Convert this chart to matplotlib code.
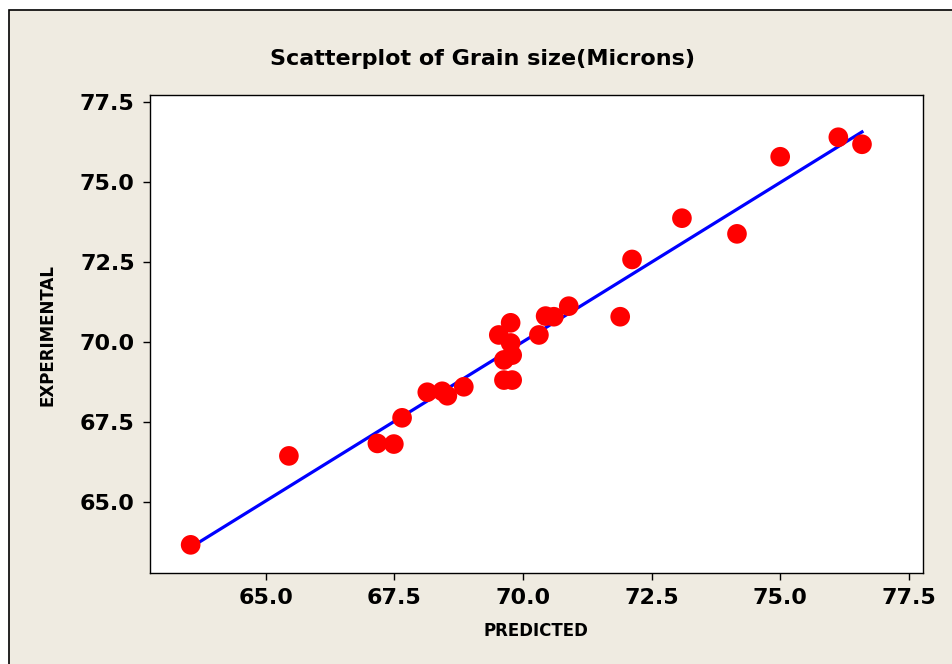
import numpy as np
import matplotlib
matplotlib.use('Agg')
import matplotlib.pyplot as plt
from matplotlib.patches import Rectangle

# data
predicted = [63.54, 65.45, 67.17, 67.49, 67.65, 68.14, 68.43, 68.53, 68.85,
             69.63, 69.79, 69.63, 69.79, 69.76, 69.53, 69.76, 70.31, 70.44,
             70.60, 70.89, 71.89, 72.12, 73.09, 74.16, 75.00, 76.13, 76.59]
experimental = [63.66, 66.44, 66.83, 66.81, 67.63, 68.43, 68.46, 68.32, 68.60,
                68.81, 68.81, 69.44, 69.59, 69.97, 70.22, 70.60, 70.22, 70.81,
                70.79, 71.12, 70.79, 72.58, 73.87, 73.38, 75.79, 76.40, 76.18]
xticks = [65.0, 67.5, 70.0, 72.5, 75.0, 77.5]
yticks = [65.0, 67.5, 70.0, 72.5, 75.0, 77.5]

bg = '#efebe1'

fig = plt.figure(figsize=(9.53, 6.64), dpi=100, facecolor='white')
# beige panel with the black frame on the left and top
fig.patches.append(Rectangle((9/953, -0.02), 1.1, 1 - 10/664 + 0.02,
                             transform=fig.transFigure, facecolor=bg,
                             edgecolor='black', linewidth=1.2, zorder=-1))

ax = fig.add_axes([150/953, 1 - 573/664, (922.7 - 150)/953, (573 - 95)/664])
ax.set_facecolor('white')

# least squares fit line over the range of the data
x = np.array(predicted)
y = np.array(experimental)
b1, b0 = np.polyfit(x, y, 1)
xl = np.array([x.min(), x.max()])
ax.plot(xl, b0 + b1*xl, color='#0000ff', lw=2.3, zorder=2)

ax.scatter(x, y, s=200, color='#ff0000', edgecolors='none', zorder=3)

ax.set_xlim(62.75, 77.77)
ax.set_ylim(62.78, 77.72)
ax.set_xticks(xticks)
ax.set_yticks(yticks)
ax.set_xticklabels(['%.1f' % v for v in xticks], fontsize=16, fontweight='bold')
ax.set_yticklabels(['%.1f' % v for v in yticks], fontsize=16, fontweight='bold')
ax.tick_params(direction='out', length=5, width=1, pad=6)
for s in ax.spines.values():
    s.set_linewidth(1)

fig.text(536/953, 1 - 631/664, 'PREDICTED', fontsize=12, fontweight='bold',
         ha='center', va='center')
fig.text(48/953, 1 - 335/664, 'EXPERIMENTAL', fontsize=12, fontweight='bold',
         ha='center', va='center', rotation=90)
fig.text(483/953, 1 - 59/664, 'Scatterplot of Grain size(Microns)', fontsize=16,
         fontweight='bold', ha='center', va='center')

fig.savefig('out.png', dpi=100, facecolor=fig.get_facecolor())
